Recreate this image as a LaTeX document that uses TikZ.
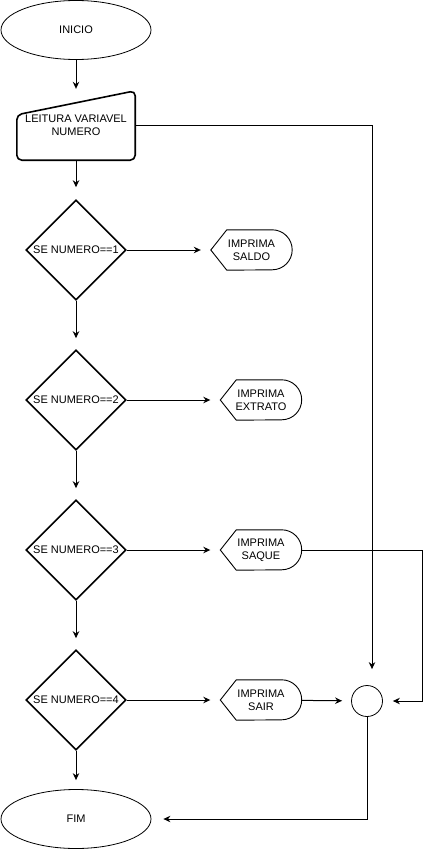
\documentclass[tikz,border=0pt]{standalone}
\usepackage{fontspec}
\setmainfont{Liberation Sans}
\usetikzlibrary{shapes.geometric,arrows.meta}

% outline of a display box, drawn round a named node
\newcommand{\displayoutline}[1]{%
    \draw[displayline] (#1.west) -- ([xshift=16pt]#1.north west)
        -- ([xshift=-20pt]#1.north east)
        arc[start angle=90,end angle=-90,radius=20pt]
        -- ([xshift=16pt]#1.south west) -- cycle;}

\begin{document}
\begin{tikzpicture}[%
    x=1pt, y=-1pt,
    every node/.style={%
        font=\fontsize{11}{13}\selectfont,
        align=center
    },
    terminal/.style={%
        draw,
        ellipse,
        line width=0.8pt,
        inner sep=0pt,
        minimum width=150pt,
        minimum height=59pt
    },
    readbox/.style={%
        inner sep=0pt,
        minimum width=118pt,
        minimum height=69pt
    },
    readline/.style={%
        line width=1.6pt,
        rounded corners=5pt
    },
    decision/.style={%
        draw,
        diamond,
        line width=1.6pt,
        inner sep=0pt,
        minimum width=100pt,
        minimum height=100pt
    },
    display/.style={%
        inner sep=0pt,
        minimum width=81pt,
        minimum height=40pt
    },
    displayline/.style={%
        line width=0.9pt
    },
    joint/.style={%
        draw,
        circle,
        line width=0.8pt,
        inner sep=0pt,
        minimum size=31pt
    },
    arr/.style={%
        -{Stealth[length=7pt,width=6.5pt]},
        line width=1pt
    }
]

\useasboundingbox (0,0) rectangle (431,851);

% Start and reading
    \node[terminal] (inicio) at (76,30) {INICIO};
    \node[readbox] (leitura) at (76,125.5) {LEITURA VARIAVEL\\NUMERO};
    \draw[readline] (leitura.south west) -- ([yshift=-24pt]leitura.north west)
        -- (leitura.north east) -- (leitura.south east) -- cycle;

% Decisions
    \node[decision] (se1) at (76,250) {\makebox[0pt]{SE NUMERO==1}};
    \node[decision] (se2) at (76,400) {\makebox[0pt]{SE NUMERO==2}};
    \node[decision] (se3) at (76,550) {\makebox[0pt]{SE NUMERO==3}};
    \node[decision] (se4) at (76,700) {\makebox[0pt]{SE NUMERO==4}};

% Displays
    \node[display] (saldo) at (251.5,250) {IMPRIMA\\SALDO};
    \node[display] (extrato) at (261,400) {IMPRIMA\\EXTRATO};
    \node[display] (saque) at (261,550) {IMPRIMA\\SAQUE};
    \node[display] (sair) at (261,700) {IMPRIMA\\SAIR};
    \displayoutline{saldo}
    \displayoutline{extrato}
    \displayoutline{saque}
    \displayoutline{sair}

% Joint and end
    \node[joint] (juncao) at (367,701) {};
    \node[terminal] (fim) at (76,819) {FIM};

% Arrows
\draw[arr, shorten >=2pt] (inicio) -- (leitura);
\draw[arr, shorten >=12pt] (leitura) -- (se1);
\draw[arr, shorten >=11pt] (se1) -- (se2);
\draw[arr, shorten >=11pt] (se2) -- (se3);
\draw[arr, shorten >=11pt] (se3) -- (se4);
\draw[arr, shorten >=9pt] (se4) -- (fim);

\draw[arr, shorten >=10pt] (se1) -- (saldo);
\draw[arr, shorten >=10pt] (se2) -- (extrato);
\draw[arr, shorten >=10pt] (se3) -- (saque);
\draw[arr, shorten >=10pt] (se4) -- (sair);

\draw[arr, shorten >=9pt] (sair) -- (juncao);
\draw[arr, shorten >=16pt] (leitura.east) -| ([xshift=5pt]juncao.north);
\draw[arr, shorten >=10pt] (saque.east) -- ++(121,0) |- (juncao.east);
\draw[arr, shorten >=12pt] (juncao.south) |- (fim.east);

\end{tikzpicture}
\end{document}
